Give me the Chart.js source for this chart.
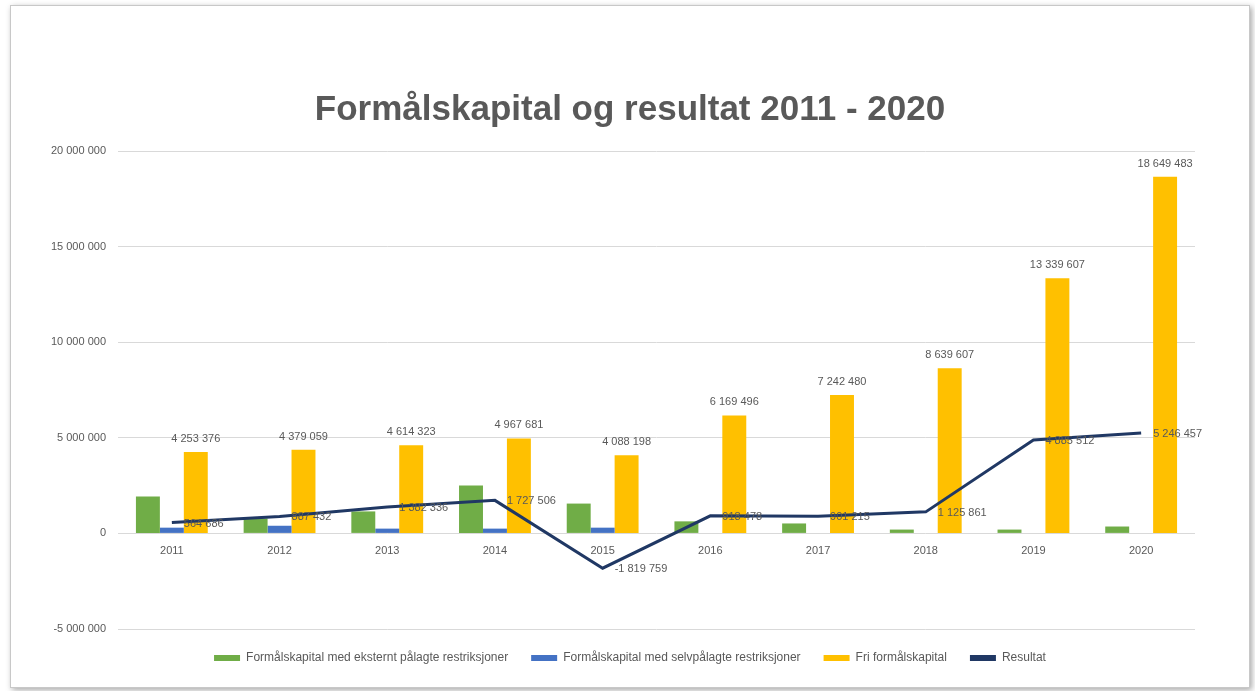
<!DOCTYPE html>
<html>
<head>
<meta charset="utf-8">
<script src="https://cdn.jsdelivr.net/npm/chart.js@4/dist/chart.umd.min.js"></script>
<style>
  body { margin: 0; background: #fff; }
  #frame {
    position: absolute; left: 10px; top: 5px; width: 1240px; height: 683px;
    box-sizing: border-box; border: 1px solid #c8c8c8; background: #fff;
    box-shadow: 2px 2px 6px rgba(0, 0, 0, 0.35);
  }
</style>
</head>
<body>
<div id="frame"><canvas id="kapitalChart"></canvas></div>
<script>
// Values
const years = ['2011', '2012', '2013', '2014', '2015', '2016', '2017', '2018', '2019', '2020'];
const eksterntPalagt = [1930000, 780000, 1150000, 2500000, 1560000, 630000, 520000, 200000, 200000, 360000];
const selvpalagt = [300000, 400000, 250000, 250000, 300000, 0, 0, 0, 0, 0];
const friKapital = [4253376, 4379059, 4614323, 4967681, 4088198, 6169496, 7242480, 8639607, 13339607, 18649483];
const resultat = [564686, 887432, 1382336, 1727506, -1819759, 918478, 901215, 1125861, 4885512, 5246457];

const textGrey = '#595959';
const fontFamily = '"Liberation Sans", Arial, sans-serif';
const smallFont = { family: fontFamily, size: 11 };

// "1 234 567" style numbers
function fmt(v) {
    const s = Math.abs(Math.round(v)).toString().replace(/\B(?=(\d{3})+(?!\d))/g, ' ');
    return (v < 0 ? '-' : '') + s;
}

// labels above the yellow bars and to the right of the line points
const valueLabels = {
    id: 'valueLabels',
    afterDatasetsDraw(chart) {
        const ctx = chart.ctx;
        ctx.save();
        ctx.font = '11px ' + fontFamily;
        ctx.fillStyle = textGrey;
        ctx.textBaseline = 'middle';
        ctx.textAlign = 'center';
        chart.getDatasetMeta(2).data.forEach((bar, i) => {
            ctx.fillText(fmt(friKapital[i]), bar.x, bar.y - 13);
        });
        ctx.textAlign = 'left';
        chart.getDatasetMeta(3).data.forEach((pt, i) => {
            ctx.fillText(fmt(resultat[i]), pt.x + 12, pt.y + 1);
        });
        ctx.restore();
    }
};

const ctxKapital = document.getElementById('kapitalChart').getContext('2d');
new Chart(ctxKapital, {
    type: 'bar',
    data: {
        labels: years,
        datasets: [
            { label: 'Formålskapital med eksternt pålagte restriksjoner', data: eksterntPalagt, backgroundColor: '#70AD47', order: 1 },
            { label: 'Formålskapital med selvpålagte restriksjoner', data: selvpalagt, backgroundColor: '#4472C4', order: 1 },
            { label: 'Fri formålskapital', data: friKapital, backgroundColor: '#FFC000', order: 1 },
            {
                type: 'line', label: 'Resultat', data: resultat,
                borderColor: '#203864', backgroundColor: '#203864',
                borderWidth: 3, pointRadius: 0, tension: 0, order: 0
            }
        ]
    },
    options: {
        responsive: true,
        maintainAspectRatio: false,
        animation: false,
        datasets: { bar: { categoryPercentage: 0.667, barPercentage: 1 } },
        layout: { padding: { left: 0, right: 0, top: 0, bottom: 13 } },
        plugins: {
            title: {
                display: true,
                text: 'Formålskapital og resultat 2011 - 2020',
                color: textGrey,
                font: { family: fontFamily, size: 35, weight: 'bold' },
                padding: { top: 83, bottom: 20 }
            },
            legend: {
                position: 'bottom',
                labels: {
                    color: textGrey,
                    font: { family: fontFamily, size: 12 },
                    boxWidth: 26,
                    boxHeight: 6,
                    padding: 23,
                    sort: (a, b) => a.datasetIndex - b.datasetIndex,
                    generateLabels(chart) {
                        const items = Chart.defaults.plugins.legend.labels.generateLabels(chart);
                        items.forEach(it => { it.lineWidth = 0; });
                        return items;
                    }
                }
            },
            tooltip: { enabled: false }
        },
        scales: {
            x: {
                position: { y: 0 },
                grid: { display: false, drawTicks: false },
                border: { display: false },
                ticks: { color: textGrey, font: smallFont, padding: 11 }
            },
            y: {
                min: -5000000,
                max: 20000000,
                afterFit: s => { s.width = 107; },
                grid: { color: '#d9d9d9', drawTicks: false },
                border: { display: false },
                ticks: { stepSize: 5000000, color: textGrey, font: smallFont, padding: 12, callback: v => fmt(v) }
            },
            // empty right margin so title and legend stay centred on the frame
            yRight: {
                position: 'right',
                grid: { display: false, drawTicks: false },
                border: { display: false },
                ticks: { display: false },
                afterFit: s => { s.width = 54; }
            }
        }
    },
    plugins: [valueLabels]
});
</script>
</body>
</html>
